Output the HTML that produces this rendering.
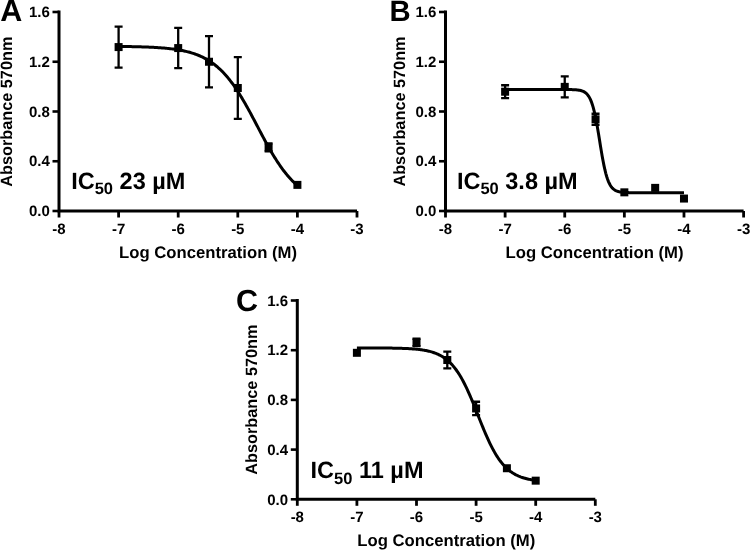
<!DOCTYPE html>
<html><head><meta charset="utf-8"><style>
html,body{margin:0;padding:0;background:#fff;width:750px;height:550px;overflow:hidden}
svg{display:block;will-change:transform}
text{font-family:"Liberation Sans",sans-serif;font-weight:bold;text-rendering:geometricPrecision}
</style></head><body>
<svg width="750" height="550" viewBox="0 0 750 550">
<rect width="750" height="550" fill="#fff"/>
<g><path d="M59.00 10.50V211.00H357.00" fill="none" stroke="#000" stroke-width="3" stroke-linejoin="miter"/>
<path d="M52.50 211.00H59.00" stroke="#000" stroke-width="2.6"/>
<text x="49.80" y="216.20" text-anchor="end" font-size="15" font-family="Liberation Sans" font-weight="bold">0.0</text>
<path d="M52.50 161.25H59.00" stroke="#000" stroke-width="2.6"/>
<text x="49.80" y="166.45" text-anchor="end" font-size="15" font-family="Liberation Sans" font-weight="bold">0.4</text>
<path d="M52.50 111.50H59.00" stroke="#000" stroke-width="2.6"/>
<text x="49.80" y="116.70" text-anchor="end" font-size="15" font-family="Liberation Sans" font-weight="bold">0.8</text>
<path d="M52.50 61.75H59.00" stroke="#000" stroke-width="2.6"/>
<text x="49.80" y="66.95" text-anchor="end" font-size="15" font-family="Liberation Sans" font-weight="bold">1.2</text>
<path d="M52.50 12.00H59.00" stroke="#000" stroke-width="2.6"/>
<text x="49.80" y="17.20" text-anchor="end" font-size="15" font-family="Liberation Sans" font-weight="bold">1.6</text>
<path d="M59.00 211.00V217.50" stroke="#000" stroke-width="2.8"/>
<text x="59.00" y="233.70" text-anchor="middle" font-size="15" font-family="Liberation Sans" font-weight="bold">-8</text>
<path d="M118.60 211.00V217.50" stroke="#000" stroke-width="2.8"/>
<text x="118.60" y="233.70" text-anchor="middle" font-size="15" font-family="Liberation Sans" font-weight="bold">-7</text>
<path d="M178.20 211.00V217.50" stroke="#000" stroke-width="2.8"/>
<text x="178.20" y="233.70" text-anchor="middle" font-size="15" font-family="Liberation Sans" font-weight="bold">-6</text>
<path d="M237.80 211.00V217.50" stroke="#000" stroke-width="2.8"/>
<text x="237.80" y="233.70" text-anchor="middle" font-size="15" font-family="Liberation Sans" font-weight="bold">-5</text>
<path d="M297.40 211.00V217.50" stroke="#000" stroke-width="2.8"/>
<text x="297.40" y="233.70" text-anchor="middle" font-size="15" font-family="Liberation Sans" font-weight="bold">-4</text>
<path d="M357.00 211.00V217.50" stroke="#000" stroke-width="2.8"/>
<text x="357.00" y="233.70" text-anchor="middle" font-size="15" font-family="Liberation Sans" font-weight="bold">-3</text>
<text x="208.00" y="258.00" text-anchor="middle" font-size="16.7" font-family="Liberation Sans" font-weight="bold">Log Concentration (M)</text>
<text transform="translate(11.80 111.70) rotate(-90)" x="0" y="0" text-anchor="middle" font-size="16.3" font-family="Liberation Sans" font-weight="bold">Absorbance 570nm</text>
<text x="0.20" y="20.80" font-size="30.5" font-family="Liberation Sans" font-weight="bold">A</text>
<text x="71.20" y="188.70" font-size="23.5" font-family="Liberation Sans" font-weight="bold">IC<tspan font-size="16.5" dy="5.5">50</tspan><tspan dy="-5.5"> 23 </tspan><tspan dx="0">µM</tspan></text>
<path d="M118.60 46.45 L119.50 46.46 L120.40 46.47 L121.30 46.48 L122.19 46.49 L123.09 46.50 L123.99 46.51 L124.89 46.52 L125.79 46.53 L126.69 46.55 L127.58 46.56 L128.48 46.57 L129.38 46.59 L130.28 46.61 L131.18 46.62 L132.08 46.64 L132.98 46.66 L133.87 46.67 L134.77 46.69 L135.67 46.71 L136.57 46.74 L137.47 46.76 L138.37 46.78 L139.27 46.80 L140.16 46.83 L141.06 46.86 L141.96 46.88 L142.86 46.91 L143.76 46.94 L144.66 46.97 L145.55 47.00 L146.45 47.04 L147.35 47.07 L148.25 47.11 L149.15 47.15 L150.05 47.19 L150.95 47.23 L151.84 47.27 L152.74 47.32 L153.64 47.36 L154.54 47.41 L155.44 47.46 L156.34 47.52 L157.24 47.57 L158.13 47.63 L159.03 47.69 L159.93 47.75 L160.83 47.82 L161.73 47.89 L162.63 47.96 L163.52 48.04 L164.42 48.11 L165.32 48.20 L166.22 48.28 L167.12 48.37 L168.02 48.46 L168.92 48.56 L169.81 48.66 L170.71 48.76 L171.61 48.87 L172.51 48.98 L173.41 49.10 L174.31 49.23 L175.21 49.35 L176.10 49.49 L177.00 49.63 L177.90 49.77 L178.80 49.92 L179.70 50.08 L180.60 50.25 L181.49 50.42 L182.39 50.59 L183.29 50.78 L184.19 50.97 L185.09 51.17 L185.99 51.38 L186.89 51.60 L187.78 51.83 L188.68 52.06 L189.58 52.31 L190.48 52.56 L191.38 52.83 L192.28 53.11 L193.17 53.39 L194.07 53.69 L194.97 54.00 L195.87 54.33 L196.77 54.66 L197.67 55.01 L198.57 55.37 L199.46 55.75 L200.36 56.14 L201.26 56.55 L202.16 56.97 L203.06 57.40 L203.96 57.86 L204.86 58.33 L205.75 58.82 L206.65 59.32 L207.55 59.85 L208.45 60.39 L209.35 60.95 L210.25 61.53 L211.14 62.14 L212.04 62.76 L212.94 63.41 L213.84 64.07 L214.74 64.76 L215.64 65.48 L216.54 66.22 L217.43 66.98 L218.33 67.76 L219.23 68.57 L220.13 69.41 L221.03 70.27 L221.93 71.16 L222.83 72.07 L223.72 73.02 L224.62 73.98 L225.52 74.98 L226.42 76.00 L227.32 77.06 L228.22 78.14 L229.11 79.24 L230.01 80.38 L230.91 81.55 L231.81 82.74 L232.71 83.96 L233.61 85.21 L234.51 86.48 L235.40 87.79 L236.30 89.12 L237.20 90.48 L238.10 91.86 L239.00 93.27 L239.90 94.71 L240.79 96.17 L241.69 97.65 L242.59 99.15 L243.49 100.68 L244.39 102.23 L245.29 103.80 L246.19 105.39 L247.08 106.99 L247.98 108.62 L248.88 110.25 L249.78 111.90 L250.68 113.57 L251.58 115.24 L252.48 116.93 L253.37 118.62 L254.27 120.32 L255.17 122.03 L256.07 123.74 L256.97 125.45 L257.87 127.17 L258.76 128.88 L259.66 130.59 L260.56 132.29 L261.46 133.99 L262.36 135.69 L263.26 137.37 L264.16 139.04 L265.05 140.71 L265.95 142.36 L266.85 143.99 L267.75 145.61 L268.65 147.22 L269.55 148.80 L270.45 150.37 L271.34 151.92 L272.24 153.44 L273.14 154.94 L274.04 156.42 L274.94 157.88 L275.84 159.31 L276.73 160.72 L277.63 162.10 L278.53 163.45 L279.43 164.78 L280.33 166.08 L281.23 167.36 L282.13 168.60 L283.02 169.82 L283.92 171.01 L284.82 172.17 L285.72 173.30 L286.62 174.41 L287.52 175.49 L288.42 176.53 L289.31 177.55 L290.21 178.55 L291.11 179.51 L292.01 180.45 L292.91 181.36 L293.81 182.25 L294.70 183.11 L295.60 183.94 L296.50 184.75 L297.40 185.53" fill="none" stroke="#000" stroke-width="3"/>
<path d="M118.60 26.55V67.60M114.60 26.55H122.60M114.60 67.60H122.60" stroke="#000" stroke-width="2.3" fill="none"/>
<rect x="114.60" y="43.07" width="8" height="8" fill="#000"/>
<path d="M178.20 27.92V68.22M174.20 27.92H182.20M174.20 68.22H182.20" stroke="#000" stroke-width="2.3" fill="none"/>
<rect x="174.20" y="44.07" width="8" height="8" fill="#000"/>
<path d="M209.00 36.13V87.37M205.00 36.13H213.00M205.00 87.37H213.00" stroke="#000" stroke-width="2.3" fill="none"/>
<rect x="205.00" y="57.75" width="8" height="8" fill="#000"/>
<path d="M237.80 57.15V118.84M233.80 57.15H241.80M233.80 118.84H241.80" stroke="#000" stroke-width="2.3" fill="none"/>
<rect x="233.80" y="83.99" width="8" height="8" fill="#000"/>
<path d="M268.60 143.46V151.42M264.60 143.46H272.60M264.60 151.42H272.60" stroke="#000" stroke-width="2.3" fill="none"/>
<rect x="264.60" y="143.44" width="8" height="8" fill="#000"/>
<rect x="293.40" y="180.88" width="8" height="8" fill="#000"/></g>
<g><path d="M445.50 10.50V211.00H743.60" fill="none" stroke="#000" stroke-width="3" stroke-linejoin="miter"/>
<path d="M439.00 211.00H445.50" stroke="#000" stroke-width="2.6"/>
<text x="436.30" y="216.20" text-anchor="end" font-size="15" font-family="Liberation Sans" font-weight="bold">0.0</text>
<path d="M439.00 161.25H445.50" stroke="#000" stroke-width="2.6"/>
<text x="436.30" y="166.45" text-anchor="end" font-size="15" font-family="Liberation Sans" font-weight="bold">0.4</text>
<path d="M439.00 111.50H445.50" stroke="#000" stroke-width="2.6"/>
<text x="436.30" y="116.70" text-anchor="end" font-size="15" font-family="Liberation Sans" font-weight="bold">0.8</text>
<path d="M439.00 61.75H445.50" stroke="#000" stroke-width="2.6"/>
<text x="436.30" y="66.95" text-anchor="end" font-size="15" font-family="Liberation Sans" font-weight="bold">1.2</text>
<path d="M439.00 12.00H445.50" stroke="#000" stroke-width="2.6"/>
<text x="436.30" y="17.20" text-anchor="end" font-size="15" font-family="Liberation Sans" font-weight="bold">1.6</text>
<path d="M445.50 211.00V217.50" stroke="#000" stroke-width="2.8"/>
<text x="445.50" y="233.70" text-anchor="middle" font-size="15" font-family="Liberation Sans" font-weight="bold">-8</text>
<path d="M505.12 211.00V217.50" stroke="#000" stroke-width="2.8"/>
<text x="505.12" y="233.70" text-anchor="middle" font-size="15" font-family="Liberation Sans" font-weight="bold">-7</text>
<path d="M564.74 211.00V217.50" stroke="#000" stroke-width="2.8"/>
<text x="564.74" y="233.70" text-anchor="middle" font-size="15" font-family="Liberation Sans" font-weight="bold">-6</text>
<path d="M624.36 211.00V217.50" stroke="#000" stroke-width="2.8"/>
<text x="624.36" y="233.70" text-anchor="middle" font-size="15" font-family="Liberation Sans" font-weight="bold">-5</text>
<path d="M683.98 211.00V217.50" stroke="#000" stroke-width="2.8"/>
<text x="683.98" y="233.70" text-anchor="middle" font-size="15" font-family="Liberation Sans" font-weight="bold">-4</text>
<path d="M743.60 211.00V217.50" stroke="#000" stroke-width="2.8"/>
<text x="743.60" y="233.70" text-anchor="middle" font-size="15" font-family="Liberation Sans" font-weight="bold">-3</text>
<text x="594.55" y="258.00" text-anchor="middle" font-size="16.7" font-family="Liberation Sans" font-weight="bold">Log Concentration (M)</text>
<text transform="translate(404.60 111.50) rotate(-90)" x="0" y="0" text-anchor="middle" font-size="16.3" font-family="Liberation Sans" font-weight="bold">Absorbance 570nm</text>
<text x="389.60" y="20.60" font-size="29.3" font-family="Liberation Sans" font-weight="bold">B</text>
<text x="456.90" y="188.90" font-size="23.5" font-family="Liberation Sans" font-weight="bold">IC<tspan font-size="16.5" dy="5.5">50</tspan><tspan dy="-5.5"> 3.8 </tspan><tspan dx="0">µM</tspan></text>
<path d="M505.12 89.50 L506.02 89.50 L506.92 89.50 L507.82 89.50 L508.72 89.50 L509.61 89.50 L510.51 89.50 L511.41 89.50 L512.31 89.50 L513.21 89.50 L514.11 89.50 L515.01 89.50 L515.91 89.50 L516.80 89.50 L517.70 89.50 L518.60 89.50 L519.50 89.50 L520.40 89.50 L521.30 89.50 L522.20 89.50 L523.10 89.50 L523.99 89.50 L524.89 89.50 L525.79 89.50 L526.69 89.50 L527.59 89.50 L528.49 89.50 L529.39 89.50 L530.29 89.50 L531.19 89.50 L532.08 89.50 L532.98 89.50 L533.88 89.50 L534.78 89.50 L535.68 89.50 L536.58 89.50 L537.48 89.50 L538.38 89.50 L539.27 89.50 L540.17 89.50 L541.07 89.50 L541.97 89.50 L542.87 89.50 L543.77 89.50 L544.67 89.50 L545.57 89.50 L546.46 89.50 L547.36 89.50 L548.26 89.50 L549.16 89.50 L550.06 89.50 L550.96 89.50 L551.86 89.50 L552.76 89.50 L553.65 89.50 L554.55 89.50 L555.45 89.50 L556.35 89.50 L557.25 89.50 L558.15 89.50 L559.05 89.50 L559.95 89.50 L560.85 89.51 L561.74 89.51 L562.64 89.51 L563.54 89.51 L564.44 89.52 L565.34 89.52 L566.24 89.53 L567.14 89.54 L568.04 89.55 L568.93 89.56 L569.83 89.57 L570.73 89.59 L571.63 89.62 L572.53 89.65 L573.43 89.68 L574.33 89.73 L575.23 89.78 L576.12 89.85 L577.02 89.93 L577.92 90.04 L578.82 90.17 L579.72 90.33 L580.62 90.53 L581.52 90.78 L582.42 91.08 L583.32 91.46 L584.21 91.92 L585.11 92.49 L586.01 93.18 L586.91 94.04 L587.81 95.07 L588.71 96.33 L589.61 97.85 L590.51 99.67 L591.40 101.83 L592.30 104.38 L593.20 107.36 L594.10 110.78 L595.00 114.67 L595.90 119.02 L596.80 123.78 L597.70 128.90 L598.59 134.29 L599.49 139.83 L600.39 145.41 L601.29 150.88 L602.19 156.14 L603.09 161.08 L603.99 165.62 L604.89 169.72 L605.78 173.35 L606.68 176.53 L607.58 179.27 L608.48 181.60 L609.38 183.57 L610.28 185.22 L611.18 186.60 L612.08 187.73 L612.98 188.66 L613.87 189.43 L614.77 190.05 L615.67 190.56 L616.57 190.97 L617.47 191.31 L618.37 191.58 L619.27 191.80 L620.17 191.97 L621.06 192.12 L621.96 192.23 L622.86 192.33 L623.76 192.40 L624.66 192.46 L625.56 192.51 L626.46 192.55 L627.36 192.58 L628.25 192.61 L629.15 192.63 L630.05 192.65 L630.95 192.66 L631.85 192.67 L632.75 192.68 L633.65 192.69 L634.55 192.69 L635.45 192.70 L636.34 192.70 L637.24 192.70 L638.14 192.71 L639.04 192.71 L639.94 192.71 L640.84 192.71 L641.74 192.71 L642.64 192.71 L643.53 192.71 L644.43 192.71 L645.33 192.71 L646.23 192.71 L647.13 192.72 L648.03 192.72 L648.93 192.72 L649.83 192.72 L650.72 192.72 L651.62 192.72 L652.52 192.72 L653.42 192.72 L654.32 192.72 L655.22 192.72 L656.12 192.72 L657.02 192.72 L657.91 192.72 L658.81 192.72 L659.71 192.72 L660.61 192.72 L661.51 192.72 L662.41 192.72 L663.31 192.72 L664.21 192.72 L665.11 192.72 L666.00 192.72 L666.90 192.72 L667.80 192.72 L668.70 192.72 L669.60 192.72 L670.50 192.72 L671.40 192.72 L672.30 192.72 L673.19 192.72 L674.09 192.72 L674.99 192.72 L675.89 192.72 L676.79 192.72 L677.69 192.72 L678.59 192.72 L679.49 192.72 L680.38 192.72 L681.28 192.72 L682.18 192.72 L683.08 192.72 L683.98 192.72" fill="none" stroke="#000" stroke-width="3"/>
<path d="M505.12 85.26V98.19M501.12 85.26H509.12M501.12 98.19H509.12" stroke="#000" stroke-width="2.3" fill="none"/>
<rect x="501.12" y="87.72" width="8" height="8" fill="#000"/>
<path d="M564.74 76.30V97.45M560.74 76.30H568.74M560.74 97.45H568.74" stroke="#000" stroke-width="2.3" fill="none"/>
<rect x="560.74" y="82.87" width="8" height="8" fill="#000"/>
<path d="M595.55 113.74V124.93M591.55 113.74H599.55M591.55 124.93H599.55" stroke="#000" stroke-width="2.3" fill="none"/>
<rect x="591.55" y="115.34" width="8" height="8" fill="#000"/>
<rect x="620.36" y="188.34" width="8" height="8" fill="#000"/>
<rect x="651.17" y="183.87" width="8" height="8" fill="#000"/>
<rect x="679.98" y="194.56" width="8" height="8" fill="#000"/></g>
<g><path d="M297.30 299.00V499.30H595.30" fill="none" stroke="#000" stroke-width="3" stroke-linejoin="miter"/>
<path d="M290.80 499.30H297.30" stroke="#000" stroke-width="2.6"/>
<text x="288.10" y="504.50" text-anchor="end" font-size="15" font-family="Liberation Sans" font-weight="bold">0.0</text>
<path d="M290.80 449.60H297.30" stroke="#000" stroke-width="2.6"/>
<text x="288.10" y="454.80" text-anchor="end" font-size="15" font-family="Liberation Sans" font-weight="bold">0.4</text>
<path d="M290.80 399.90H297.30" stroke="#000" stroke-width="2.6"/>
<text x="288.10" y="405.10" text-anchor="end" font-size="15" font-family="Liberation Sans" font-weight="bold">0.8</text>
<path d="M290.80 350.20H297.30" stroke="#000" stroke-width="2.6"/>
<text x="288.10" y="355.40" text-anchor="end" font-size="15" font-family="Liberation Sans" font-weight="bold">1.2</text>
<path d="M290.80 300.50H297.30" stroke="#000" stroke-width="2.6"/>
<text x="288.10" y="305.70" text-anchor="end" font-size="15" font-family="Liberation Sans" font-weight="bold">1.6</text>
<path d="M297.30 499.30V505.80" stroke="#000" stroke-width="2.8"/>
<text x="297.30" y="522.00" text-anchor="middle" font-size="15" font-family="Liberation Sans" font-weight="bold">-8</text>
<path d="M356.90 499.30V505.80" stroke="#000" stroke-width="2.8"/>
<text x="356.90" y="522.00" text-anchor="middle" font-size="15" font-family="Liberation Sans" font-weight="bold">-7</text>
<path d="M416.50 499.30V505.80" stroke="#000" stroke-width="2.8"/>
<text x="416.50" y="522.00" text-anchor="middle" font-size="15" font-family="Liberation Sans" font-weight="bold">-6</text>
<path d="M476.10 499.30V505.80" stroke="#000" stroke-width="2.8"/>
<text x="476.10" y="522.00" text-anchor="middle" font-size="15" font-family="Liberation Sans" font-weight="bold">-5</text>
<path d="M535.70 499.30V505.80" stroke="#000" stroke-width="2.8"/>
<text x="535.70" y="522.00" text-anchor="middle" font-size="15" font-family="Liberation Sans" font-weight="bold">-4</text>
<path d="M595.30 499.30V505.80" stroke="#000" stroke-width="2.8"/>
<text x="595.30" y="522.00" text-anchor="middle" font-size="15" font-family="Liberation Sans" font-weight="bold">-3</text>
<text x="446.30" y="546.30" text-anchor="middle" font-size="16.7" font-family="Liberation Sans" font-weight="bold">Log Concentration (M)</text>
<text transform="translate(257.20 399.60) rotate(-90)" x="0" y="0" text-anchor="middle" font-size="16.3" font-family="Liberation Sans" font-weight="bold">Absorbance 570nm</text>
<text x="236.00" y="310.60" font-size="30.5" font-family="Liberation Sans" font-weight="bold">C</text>
<text x="310.60" y="478.20" font-size="23.5" font-family="Liberation Sans" font-weight="bold">IC<tspan font-size="16.5" dy="5.5">50</tspan><tspan dy="-5.5"> 11 </tspan><tspan dx="0">µM</tspan></text>
<path d="M356.90 347.92 L357.80 347.92 L358.70 347.92 L359.60 347.92 L360.49 347.93 L361.39 347.93 L362.29 347.93 L363.19 347.93 L364.09 347.93 L364.99 347.93 L365.88 347.94 L366.78 347.94 L367.68 347.94 L368.58 347.94 L369.48 347.95 L370.38 347.95 L371.28 347.95 L372.17 347.95 L373.07 347.96 L373.97 347.96 L374.87 347.96 L375.77 347.97 L376.67 347.97 L377.57 347.98 L378.46 347.98 L379.36 347.99 L380.26 347.99 L381.16 348.00 L382.06 348.01 L382.96 348.01 L383.85 348.02 L384.75 348.03 L385.65 348.04 L386.55 348.05 L387.45 348.06 L388.35 348.07 L389.25 348.08 L390.14 348.09 L391.04 348.10 L391.94 348.12 L392.84 348.13 L393.74 348.15 L394.64 348.16 L395.54 348.18 L396.43 348.20 L397.33 348.22 L398.23 348.24 L399.13 348.27 L400.03 348.29 L400.93 348.32 L401.82 348.35 L402.72 348.38 L403.62 348.41 L404.52 348.45 L405.42 348.49 L406.32 348.53 L407.22 348.57 L408.11 348.61 L409.01 348.66 L409.91 348.72 L410.81 348.77 L411.71 348.83 L412.61 348.90 L413.51 348.96 L414.40 349.04 L415.30 349.12 L416.20 349.20 L417.10 349.29 L418.00 349.38 L418.90 349.49 L419.79 349.60 L420.69 349.71 L421.59 349.84 L422.49 349.97 L423.39 350.11 L424.29 350.26 L425.19 350.42 L426.08 350.59 L426.98 350.78 L427.88 350.97 L428.78 351.18 L429.68 351.40 L430.58 351.64 L431.47 351.89 L432.37 352.16 L433.27 352.45 L434.17 352.76 L435.07 353.08 L435.97 353.43 L436.87 353.80 L437.76 354.19 L438.66 354.60 L439.56 355.05 L440.46 355.52 L441.36 356.02 L442.26 356.55 L443.16 357.11 L444.05 357.70 L444.95 358.33 L445.85 359.00 L446.75 359.71 L447.65 360.45 L448.55 361.24 L449.44 362.07 L450.34 362.95 L451.24 363.87 L452.14 364.85 L453.04 365.87 L453.94 366.95 L454.84 368.07 L455.73 369.26 L456.63 370.50 L457.53 371.79 L458.43 373.15 L459.33 374.56 L460.23 376.03 L461.13 377.55 L462.02 379.14 L462.92 380.79 L463.82 382.49 L464.72 384.25 L465.62 386.06 L466.52 387.93 L467.41 389.85 L468.31 391.82 L469.21 393.84 L470.11 395.89 L471.01 397.99 L471.91 400.13 L472.81 402.29 L473.70 404.49 L474.60 406.71 L475.50 408.94 L476.40 411.20 L477.30 413.45 L478.20 415.72 L479.09 417.98 L479.99 420.23 L480.89 422.48 L481.79 424.70 L482.69 426.91 L483.59 429.08 L484.49 431.23 L485.38 433.35 L486.28 435.42 L487.18 437.45 L488.08 439.44 L488.98 441.38 L489.88 443.27 L490.78 445.10 L491.67 446.88 L492.57 448.61 L493.47 450.28 L494.37 451.89 L495.27 453.44 L496.17 454.93 L497.06 456.36 L497.96 457.74 L498.86 459.06 L499.76 460.32 L500.66 461.52 L501.56 462.67 L502.46 463.77 L503.35 464.81 L504.25 465.81 L505.15 466.75 L506.05 467.64 L506.95 468.49 L507.85 469.30 L508.75 470.06 L509.64 470.78 L510.54 471.47 L511.44 472.11 L512.34 472.72 L513.24 473.29 L514.14 473.83 L515.03 474.34 L515.93 474.83 L516.83 475.28 L517.73 475.71 L518.63 476.11 L519.53 476.48 L520.43 476.84 L521.32 477.17 L522.22 477.48 L523.12 477.78 L524.02 478.06 L524.92 478.31 L525.82 478.56 L526.72 478.79 L527.61 479.00 L528.51 479.20 L529.41 479.39 L530.31 479.57 L531.21 479.73 L532.11 479.89 L533.00 480.03 L533.90 480.17 L534.80 480.29 L535.70 480.41" fill="none" stroke="#000" stroke-width="3"/>
<rect x="352.90" y="348.81" width="8" height="8" fill="#000"/>
<path d="M416.50 338.77V346.22M412.50 338.77H420.50M412.50 346.22H420.50" stroke="#000" stroke-width="2.3" fill="none"/>
<rect x="412.50" y="338.50" width="8" height="8" fill="#000"/>
<path d="M447.30 351.69V368.34M443.30 351.69H451.30M443.30 368.34H451.30" stroke="#000" stroke-width="2.3" fill="none"/>
<rect x="443.30" y="356.02" width="8" height="8" fill="#000"/>
<path d="M476.10 401.76V415.18M472.10 401.76H480.10M472.10 415.18H480.10" stroke="#000" stroke-width="2.3" fill="none"/>
<rect x="472.10" y="404.47" width="8" height="8" fill="#000"/>
<rect x="502.90" y="464.24" width="8" height="8" fill="#000"/>
<rect x="531.70" y="476.66" width="8" height="8" fill="#000"/></g>
</svg></body></html>
